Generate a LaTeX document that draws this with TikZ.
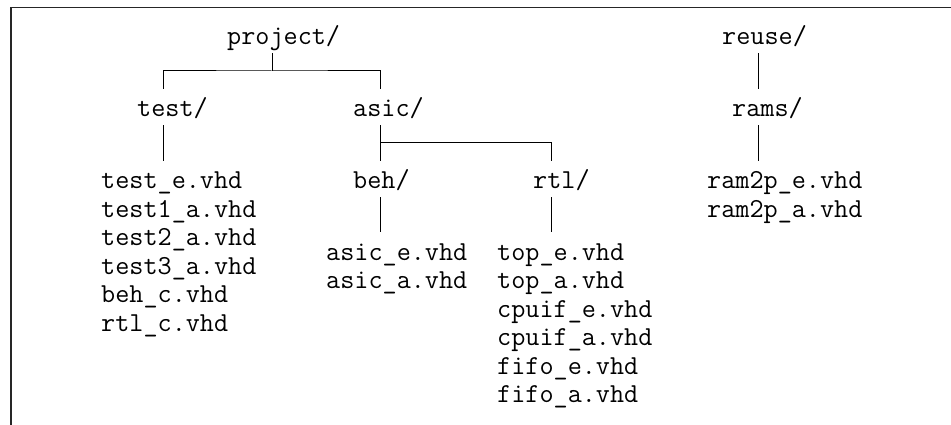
\documentclass[tikz,border=0pt]{standalone}
\usepackage{fontspec}
\usetikzlibrary{positioning,calc}

\begin{document}
\begin{tikzpicture}[x=1pt,y=-1pt,font=\ttfamily\fontsize{27.4}{32}\selectfont,
  dir/.style={anchor=base west,inner sep=0pt,text height=28pt,text depth=8pt},
  file/.style={anchor=base west,inner sep=0pt,text height=28pt,text depth=8pt},
  ln/.style={draw=black,line width=1pt},
  frame/.style={draw=black!85,line width=1.6pt}]
\useasboundingbox (0,0) rectangle (951,425);
\draw[frame](11,425)--(11,7.5)--(951,7.5);
% directories
\node[dir](project) at (227,45){project/};
\node[dir](reuse) at (722,45){reuse/};
\node[dir](test) at (137,117){test/};
\node[dir](asic) at (353,117){asic/};
\node[dir](rams) at (732,117){rams/};
\node[dir](beh) at (353,189){beh/};
\node[dir](rtl) at (533,189){rtl/};
% files
\foreach \f [count=\i] in {test\_e.vhd,test1\_a.vhd,test2\_a.vhd,test3\_a.vhd,beh\_c.vhd,rtl\_c.vhd}
  \node[file](t\i) at (101,{189+28.4*(\i-1)}){\f};
\foreach \f [count=\i] in {asic\_e.vhd,asic\_a.vhd}
  \node[file](a\i) at (326,{260+28.5*(\i-1)}){\f};
\foreach \f [count=\i] in {top\_e.vhd,top\_a.vhd,cpuif\_e.vhd,cpuif\_a.vhd,fifo\_e.vhd,fifo\_a.vhd}
  \node[file](r\i) at (497,{260+28.5*(\i-1)}){\f};
\foreach \f [count=\i] in {ram2p\_e.vhd,ram2p\_a.vhd}
  \node[file](m\i) at (707,{189+28.4*(\i-1)}){\f};
% branch columns
\coordinate (xp) at (272,71);
\coordinate (xt) at (163,0);
\coordinate (xa) at (380,143);
\coordinate (xr) at (551,0);
\coordinate (xu) at (758,0);
\draw[ln](project.south-|xp)--(xp);
\draw[ln](test.north-|xt)|-(xp)-|(asic.north-|xa);
\draw[ln](test.south-|xt)--(t1.north-|xt);
\draw[ln](asic.south-|xa)--(beh.north-|xa);
\draw[ln](xa)-|(rtl.north-|xr);
\draw[ln](beh.south-|xa)--(a1.north-|xa);
\draw[ln](rtl.south-|xr)--(r1.north-|xr);
\draw[ln](reuse.south-|xu)--(rams.north-|xu);
\draw[ln](rams.south-|xu)--(m1.north-|xu);
\end{tikzpicture}
\end{document}
